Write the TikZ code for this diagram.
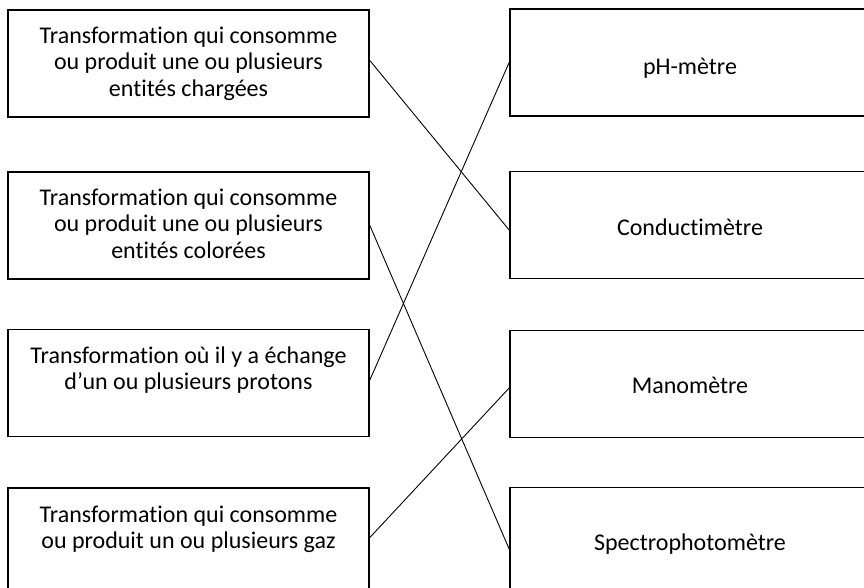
\documentclass[tikz,border=0pt]{standalone}
\usepackage{fontspec}
\setmainfont{Carlito}[Ligatures=NoCommon]
\usepackage{tikz}
\usetikzlibrary{positioning}

\begin{document}
\begin{tikzpicture}[x=1pt, y=-1pt,
  lbox/.style={draw, line width=1.7pt, minimum width=361pt, minimum height=107pt, inner sep=0pt},
  rbox/.style={lbox},
  txt/.style={align=center, anchor=base, inner sep=0pt, font=\fontsize{24}{26.5}\selectfont},
  link/.style={line width=0.9pt}
]
\useasboundingbox (0,0) rectangle (864,588);
\clip (0,0) rectangle (864,588);
% left column: transformations
\node[lbox] (lb1) at (188.5, 63.5) {};
\node[lbox] (lb2) at (188.5,225.5) {};
\node[lbox] (lb3) at (188.5,383) {};
\node[lbox] (lb4) at (188.5,541.5) {};
\node[txt] (lt1) at (188.5,96.5) {Transformation qui consomme\\ou produit une ou plusieurs\\entités chargées};
\node[txt] (lt2) at (188.5,258) {Transformation qui consomme\\ou produit une ou plusieurs\\entités colorées};
\node[txt] (lt3) at (188.5,389.5) {Transformation où il y a échange\\d’un ou plusieurs protons};
\node[txt] (lt4) at (188.5,548.5) {Transformation qui consomme\\ou produit un ou plusieurs gaz};
% right column: instruments
\node[rbox] (rb1) at (690.5, 62.5) {};
\node[rbox] (rb2) at (690.5,225) {};
\node[rbox] (rb3) at (690.5,384) {};
\node[rbox] (rb4) at (690.5,541) {};
\node[txt] (rt1) at (690,75) {pH-mètre};
\node[txt] (rt2) at (690,235) {Conductimètre};
\node[txt] (rt3) at (690,393) {Manomètre};
\node[txt] (rt4) at (690,550) {Spectrophotomètre};
% matching lines
\draw[link] ([yshift=3pt]lb1.east) -- ([yshift=-5pt]rb2.west);
\draw[link] (lb2.east) -- ([yshift=-8pt]rb4.west);
\draw[link] ([yshift=3pt]lb3.east) -- (rb1.west);
\draw[link] ([yshift=4pt]lb4.east) -- ([yshift=-4pt]rb3.west);
\end{tikzpicture}
\end{document}
